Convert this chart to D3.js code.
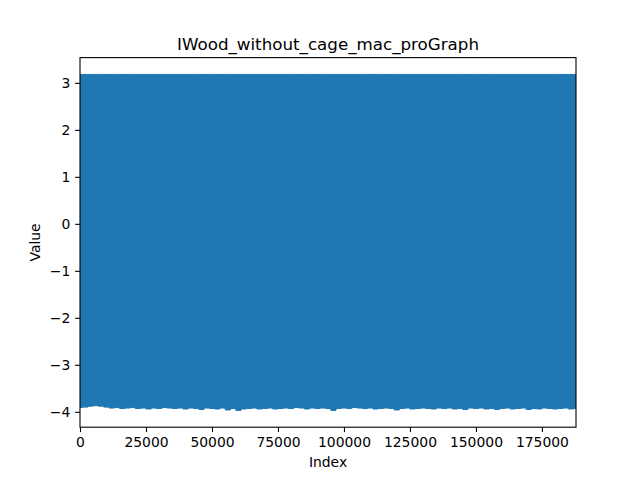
<!doctype html>
<html>
<head>
<meta charset="utf-8">
<title>IWood_without_cage_mac_proGraph</title>
<script src="https://cdn.jsdelivr.net/npm/d3@7"></script>
<style>
  body { margin: 0; background: #fff; }
  text { font-family: "DejaVu Sans", sans-serif; fill: #000; }
</style>
</head>
<body>
<script>
// signal envelope (the trace is too dense to see single samples)
var chartTitle = "IWood_without_cage_mac_proGraph";
var nSamples = 187900;
var highIdx = [0, 187900];
var highVals = [3.18, 3.18];
var lowStep = 2000;
var lowVals = [
  -3.91,-3.90,-3.88,-3.87,-3.88,-3.90,-3.92,-3.91,-3.93,-3.92,
  -3.91,-3.93,-3.92,-3.94,-3.92,-3.93,-3.91,-3.92,-3.93,-3.92,
  -3.94,-3.92,-3.93,-3.95,-3.92,-3.93,-3.94,-3.92,-3.96,-3.93,
  -3.97,-3.94,-3.93,-3.92,-3.94,-3.93,-3.92,-3.94,-3.93,-3.92,
  -3.93,-3.91,-3.92,-3.94,-3.92,-3.93,-3.92,-3.93,-3.97,-3.93,
  -3.92,-3.93,-3.91,-3.92,-3.93,-3.92,-3.94,-3.93,-3.92,-3.93,
  -3.96,-3.93,-3.92,-3.94,-3.93,-3.92,-3.93,-3.94,-3.92,-3.93,
  -3.92,-3.94,-3.93,-3.95,-3.92,-3.93,-3.92,-3.94,-3.93,-3.95,
  -3.93,-3.92,-3.94,-3.93,-3.92,-3.95,-3.93,-3.94,-3.92,-3.93,
  -3.94,-3.93,-3.92,-3.94,-3.93
];
var xTicks = [0, 25000, 50000, 75000, 100000, 125000, 150000, 175000];
var yTicks = [-4, -3, -2, -1, 0, 1, 2, 3];

var w = 640, h = 480;
var padL = 80, padR = 576, padT = 57.6, padB = 427.2;

var svg = d3.select("body").append("svg")
  .attr("width", w).attr("height", h);

var x = d3.scaleLinear().domain([0, nSamples]).range([padL, padR]);
// matplotlib style 5% margin on y
var yMin = d3.min(lowVals), yMax = d3.max(highVals);
var marg = (yMax - yMin) * 0.05;
var y = d3.scaleLinear().domain([yMin - marg, yMax + marg]).range([padB, padT]);

svg.append("clipPath").attr("id", "clip")
  .append("rect").attr("x", padL).attr("y", padT)
  .attr("width", padR - padL).attr("height", padB - padT);

// band between the two envelopes, stepped so the bottom edge looks ragged
var band = lowVals.map(function(v, i) {
  return { idx: i * lowStep, lo: v, hi: highVals[0] };
});
var area = d3.area()
  .curve(d3.curveStep)
  .x(function(d) { return x(d.idx); })
  .y0(function(d) { return y(d.lo); })
  .y1(function(d) { return y(d.hi); });

svg.append("path")
  .datum(band)
  .attr("clip-path", "url(#clip)")
  .attr("d", area)
  .attr("fill", "#1f77b4")
  .attr("stroke", "#1f77b4")
  .attr("stroke-width", 1);

//axes
var tk = 4.86;
var gx = svg.append("g").attr("transform", "translate(0," + padB + ")")
  .call(d3.axisBottom(x).tickValues(xTicks).tickFormat(d3.format("d"))
    .tickSize(tk).tickPadding(4.86).tickSizeOuter(0));
var gy = svg.append("g").attr("transform", "translate(" + padL + ",0)")
  .call(d3.axisLeft(y).tickValues(yTicks).tickFormat(d3.format("d"))
    .tickSize(tk).tickPadding(4.86).tickSizeOuter(0));
[gx, gy].forEach(function(g) {
  g.select(".domain").remove();
  g.selectAll("line").attr("stroke", "#000").attr("stroke-width", 1.1);
  g.selectAll("text").attr("font-size", "13.9px").attr("font-family", "DejaVu Sans");
});

svg.append("rect")
  .attr("x", padL).attr("y", padT)
  .attr("width", padR - padL).attr("height", padB - padT)
  .attr("fill", "none").attr("stroke", "#000").attr("stroke-width", 1.1);

svg.append("text").attr("x", (padL + padR) / 2).attr("y", 50)
  .attr("text-anchor", "middle").attr("font-size", "16.7px").text(chartTitle);
svg.append("text").attr("x", (padL + padR) / 2).attr("y", 467)
  .attr("text-anchor", "middle").attr("font-size", "13.9px").text("Index");
svg.append("text").attr("transform", "translate(40," + (padT + padB) / 2 + ") rotate(-90)")
  .attr("text-anchor", "middle").attr("font-size", "13.9px").text("Value");
</script>
</body>
</html>
